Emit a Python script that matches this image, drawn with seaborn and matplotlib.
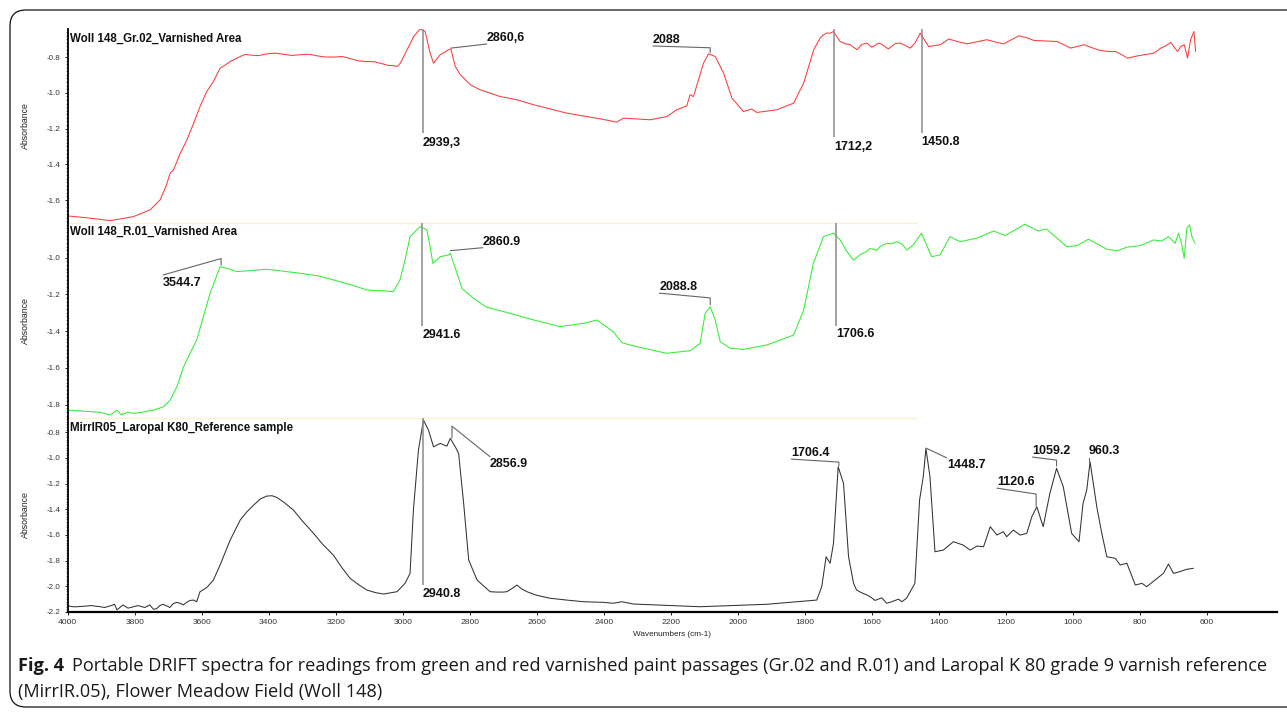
import matplotlib
matplotlib.use("Agg")
import matplotlib.pyplot as plt
import seaborn as sns
import pandas as pd
from matplotlib.patches import FancyBboxPatch
from matplotlib.ticker import MultipleLocator, FormatStrFormatter, FixedLocator

# ---------------- data ----------------
red_wn = [4000, 3940, 3873, 3840, 3804, 3754, 3724, 3707, 3694, 3684, 3664, 3644, 3624, 3605, 3585,
          3565, 3545, 3530, 3515, 3485, 3470, 3450, 3430, 3405, 3380, 3350, 3330, 3306, 3280, 3250,
          3230, 3206, 3180, 3150, 3130, 3107, 3085, 3060, 3045, 3027, 3015,
          3007, 2987, 2967, 2948, 2933, 2918, 2908, 2888, 2863, 2856, 2843, 2828, 2798, 2769, 2709,
          2659, 2609, 2510, 2410, 2361, 2341, 2261, 2211, 2182, 2152, 2142, 2132, 2117, 2102, 2087,
          2067, 2042, 2017, 1983, 1958, 1943, 1883, 1833, 1803, 1773, 1754, 1744, 1734, 1724, 1714,
          1694, 1680, 1664, 1644, 1630, 1614, 1600, 1590, 1580, 1570, 1550, 1540, 1530, 1515, 1500,
          1485, 1470, 1455, 1430,
          1395, 1370, 1340, 1315, 1280, 1256, 1230, 1206, 1180, 1161, 1140, 1116, 1080, 1046, 1006,
          966, 926, 900, 872, 850, 837, 810, 787,
          757, 737, 720, 707, 697, 687, 677, 667, 657, 648, 638, 633]
red_ab = [-1.689, -1.700, -1.715, -1.705, -1.693, -1.655, -1.599, -1.525, -1.450, -1.431, -1.338, -1.263,
          -1.170, -1.077, -0.993, -0.937, -0.862, -0.845, -0.825, -0.797, -0.785, -0.790, -0.792, -0.782,
          -0.778, -0.786, -0.791, -0.787, -0.784, -0.795, -0.800, -0.800, -0.797, -0.812, -0.822, -0.825,
          -0.826, -0.838, -0.846, -0.849, -0.852,
          -0.834, -0.759, -0.685, -0.643, -0.657, -0.778,
          -0.834, -0.787, -0.759, -0.755, -0.853, -0.899, -0.955, -0.983, -1.021, -1.039, -1.067, -1.114,
          -1.146, -1.164, -1.142, -1.151, -1.133, -1.095, -1.073, -1.011, -1.021, -0.927, -0.834, -0.782,
          -0.797, -0.890, -1.030, -1.105, -1.091, -1.110, -1.095, -1.058, -0.946, -0.759, -0.694, -0.675,
          -0.666, -0.666, -0.657, -0.713, -0.725, -0.731, -0.759, -0.730, -0.722, -0.745, -0.735, -0.722,
          -0.728, -0.755, -0.740, -0.725, -0.722, -0.735, -0.750, -0.720, -0.666, -0.741,
          -0.731, -0.699, -0.715, -0.726, -0.712, -0.703, -0.716, -0.726, -0.700, -0.681, -0.690, -0.707,
          -0.710, -0.713, -0.750, -0.731, -0.759, -0.768, -0.769, -0.790, -0.806, -0.795, -0.787,
          -0.778, -0.750, -0.735, -0.718, -0.745, -0.769, -0.740, -0.731, -0.806, -0.703, -0.657, -0.769]

green_wn = [4000, 3950, 3903, 3873, 3853, 3840, 3820, 3804, 3770, 3744, 3714, 3694, 3674, 3654, 3635,
            3615, 3595, 3575, 3560, 3545, 3525, 3495, 3450, 3406, 3350, 3306, 3250, 3207, 3150, 3107,
            3060, 3028, 3008, 2993, 2978, 2948, 2928, 2918, 2910, 2888, 2863, 2858, 2843, 2823, 2789,
            2749, 2679, 2609, 2530, 2460, 2420, 2371, 2346, 2311, 2212, 2142, 2112, 2097, 2082, 2067,
            2052, 2022, 1983, 1913, 1833, 1803, 1774, 1744, 1714, 1694, 1674, 1654, 1645, 1635, 1625,
            1615, 1605, 1595, 1585, 1575, 1565, 1555, 1540, 1525, 1510, 1495, 1476, 1451, 1436, 1421,
            1396, 1366, 1336, 1286, 1236, 1202, 1142,
            1103, 1078, 1018, 988, 953, 898, 868, 838, 799, 759, 734, 714, 694, 684, 674, 667, 659,
            651, 644, 635]
green_ab = [-1.829, -1.835, -1.841, -1.856, -1.829, -1.855, -1.840, -1.847, -1.838, -1.829, -1.811, -1.774,
            -1.702, -1.593, -1.520, -1.448, -1.321, -1.194, -1.121, -1.049, -1.058, -1.076, -1.070, -1.063,
            -1.075, -1.085, -1.100, -1.121, -1.150, -1.176, -1.180, -1.185, -1.121, -1.013, -0.886, -0.831,
            -0.849, -0.940, -1.031, -0.995, -0.985, -0.976, -1.058, -1.167, -1.221, -1.270, -1.303, -1.339,
            -1.375, -1.357, -1.339, -1.403, -1.462, -1.480, -1.520, -1.506, -1.466, -1.303, -1.267, -1.339,
            -1.457, -1.493, -1.499, -1.475, -1.421, -1.285, -1.031, -0.886, -0.867, -0.904, -0.967, -1.013,
            -1.000, -0.985, -0.975, -0.967, -0.950, -0.955, -0.960, -0.940, -0.930, -0.922, -0.925, -0.913,
            -0.925, -0.958, -0.931, -0.867, -0.931, -0.995,
            -0.985, -0.886, -0.913, -0.894, -0.855, -0.880, -0.818, -0.855, -0.844, -0.940, -0.935, -0.900,
            -0.954, -0.963, -0.943, -0.935, -0.904, -0.909, -0.886, -0.922, -0.867, -0.931, -1.003, -0.840,
            -0.822, -0.886, -0.922]

black_wn = [4000, 3980, 3950, 3930, 3903, 3890, 3870, 3860, 3853, 3835, 3820, 3804, 3790, 3770, 3755,
            3744, 3735, 3725, 3715, 3704, 3695, 3685, 3675, 3664, 3655, 3645, 3635, 3624, 3615,
            3605, 3585, 3565, 3545, 3515, 3485, 3465, 3445, 3425, 3406, 3390, 3376, 3355, 3326, 3300,
            3266, 3240, 3207, 3180, 3157, 3130, 3107, 3080, 3057,
            3017, 2993, 2978, 2968, 2953, 2938, 2923, 2908, 2888, 2868, 2858, 2843, 2833, 2818, 2803,
            2778, 2739, 2720, 2700, 2689, 2675, 2659, 2645, 2629, 2600, 2560, 2500, 2460, 2400, 2371,
            2346, 2311, 2112, 1913, 1764, 1749, 1736,
            1724, 1714, 1700, 1684, 1669, 1654, 1645, 1630, 1614, 1605, 1590, 1570, 1555, 1540, 1520,
            1510, 1496, 1471, 1457, 1446, 1438,
            1426, 1411, 1386, 1356, 1327, 1306, 1286, 1266, 1246, 1226, 1207, 1197, 1177, 1157, 1137,
            1122, 1107, 1088, 1068, 1048, 1028, 1003, 981, 969, 958, 948, 928, 913, 898, 873, 858,
            838, 813, 793, 779, 729, 714, 699, 680, 660, 640]
black_ab = [-2.153, -2.160, -2.155, -2.150, -2.159, -2.165, -2.150, -2.140, -2.184, -2.145, -2.170, -2.159,
            -2.150, -2.165, -2.145, -2.179, -2.175, -2.150, -2.140, -2.153, -2.165, -2.135, -2.125, -2.132,
            -2.145, -2.125, -2.110, -2.107, -2.120,
            -2.042, -2.010, -1.951, -1.834, -1.640, -1.484, -1.420, -1.368, -1.320, -1.298, -1.295, -1.308,
            -1.345, -1.407, -1.490, -1.588, -1.670, -1.757, -1.860, -1.938, -1.990, -2.029, -2.050, -2.060,
            -2.042, -1.977, -1.899, -1.407, -0.940, -0.707,
            -0.784, -0.914, -0.888, -0.909, -0.849, -0.914, -0.966, -1.355, -1.795, -1.951, -2.042, -2.045,
            -2.045, -2.042, -2.020, -1.990, -2.020, -2.042, -2.070, -2.093, -2.110, -2.120, -2.125, -2.132,
            -2.120, -2.138, -2.159, -2.140, -2.107, -2.003, -1.770,
            -1.821, -1.666, -1.070, -1.199, -1.770, -1.977, -2.029, -2.050, -2.068, -2.080, -2.110, -2.090,
            -2.132, -2.120, -2.100, -2.120, -2.093, -1.977,
            -1.329, -1.147, -0.927, -1.147, -1.731, -1.718, -1.653, -1.679, -1.718, -1.687, -1.692, -1.536,
            -1.601, -1.575, -1.614, -1.562, -1.601, -1.588, -1.459, -1.381, -1.536, -1.277, -1.082, -1.225,
            -1.588, -1.653, -1.355, -1.251, -1.031, -1.381, -1.588, -1.770, -1.782, -1.834, -1.821, -1.990,
            -1.977, -2.003, -1.899, -1.827, -1.899, -1.886, -1.868, -1.860]

panel_titles = ["Woll 148_Gr.02_Varnished Area",
                "Woll 148_R.01_Varnished Area",
                "MirrIR05_Laropal K80_Reference sample"]
x_ticks = [4000, 3800, 3600, 3400, 3200, 3000, 2800, 2600, 2400, 2200, 2000, 1800, 1600, 1400, 1200,
           1000, 800, 600]
y_ticks = [[-0.8, -1.0, -1.2, -1.4, -1.6],
           [-1.0, -1.2, -1.4, -1.6, -1.8],
           [-0.8, -1.0, -1.2, -1.4, -1.6, -1.8, -2.0, -2.2]]

# peak labels: (panel, text, wavenumber)
peak_panel = [0, 0, 0, 0, 0, 1, 1, 1, 1, 1, 2, 2, 2, 2, 2, 2, 2]
peak_text = ["2939,3", "2860,6", "2088", "1712,2", "1450.8",
             "3544.7", "2941.6", "2860.9", "2088.8", "1706.6",
             "2940.8", "2856.9", "1706.4", "1448.7", "1120.6", "1059.2", "960.3"]
peak_wn = [2939.3, 2860.6, 2088, 1712.2, 1450.8,
           3544.7, 2941.6, 2860.9, 2088.8, 1706.6,
           2940.8, 2856.9, 1706.4, 1448.7, 1120.6, 1059.2, 960.3]

caption_bold = "Fig. 4"
caption_l1 = ("Portable DRIFT spectra for readings from green and red varnished paint passages "
              "(Gr.02 and R.01) and Laropal K 80 grade 9 varnish reference")
caption_l2 = "(MirrIR.05), Flower Meadow Field (Woll 148)"

# ---------------- layout / style ----------------
W_PX, H_PX = 1287, 713
ylims = [(-1.727, -0.643), (-1.872, -0.81), (-2.2, -0.69)]
tops_px = [29, 222.7, 418]
bots_px = [222.7, 418, 612]
colors = ["#ff3b3b", "#33ee33", "#333333"]

ann_layout = [
    dict(kind="drop", y_end=-1.224, y_lab=-1.25),
    dict(kind="lead", path=[(2856, -0.750), (2749, -0.727)], tx=2749, ty=-0.727, va="bottom"),
    dict(kind="lead", path=[(2253, -0.738), (2082, -0.748), (2082, -0.776)], tx=2253, ty=-0.738, va="bottom"),
    dict(kind="drop", y_end=-1.246, y_lab=-1.27),
    dict(kind="drop", y_end=-1.224, y_lab=-1.24),
    dict(kind="lead", path=[(3715, -1.094), (3542, -1.005), (3542, -1.040)], tx=3715, ty=-1.105, va="top"),
    dict(kind="drop", y_end=-1.372, y_lab=-1.39),
    dict(kind="lead", path=[(2858, -0.962), (2761, -0.946)], tx=2761, ty=-0.946, va="bottom"),
    dict(kind="lead", path=[(2234, -1.193), (2082, -1.219), (2082, -1.257)], tx=2234, ty=-1.193, va="bottom"),
    dict(kind="drop", y_end=-1.372, y_lab=-1.38),
    dict(kind="drop", y_end=-1.99, y_lab=-2.013),
    dict(kind="lead", path=[(2853, -0.847), (2853, -0.753), (2739, -0.992)], tx=2739, ty=-1.0, va="top"),
    dict(kind="lead", path=[(1840, -1.010), (1698, -1.033), (1698, -1.064)], tx=1840, ty=-1.010, va="bottom"),
    dict(kind="lead", path=[(1438, -0.924), (1376, -1.0)], tx=1375, ty=-1.01, va="top"),
    dict(kind="lead", path=[(1226, -1.236), (1109, -1.282), (1109, -1.376)], tx=1226, ty=-1.236, va="bottom"),
    dict(kind="lead", path=[(1120, -0.994), (1048, -1.018), (1048, -1.064)], tx=1120, ty=-0.994, va="bottom"),
    dict(kind="lead", path=[(952, -1.000), (952, -1.035)], tx=952, ty=-0.994, va="bottom"),
]

sns.set_theme(style="white")
plt.rcParams["font.family"] = ["Liberation Sans", "DejaVu Sans"]
plt.rcParams["axes.unicode_minus"] = False

fig = plt.figure(figsize=(W_PX / 100, H_PX / 100), dpi=100)
fig.patch.set_facecolor("white")

L = 67.7 / W_PX
R = 1277 / W_PX
series = [(red_wn, red_ab), (green_wn, green_ab), (black_wn, black_ab)]
axes = []
for i in range(3):
    t, b = tops_px[i], bots_px[i]
    ax = fig.add_axes([L, 1 - b / H_PX, R - L, (b - t) / H_PX])
    ax.set_facecolor("none")
    df = pd.DataFrame({"wn": series[i][0], "ab": series[i][1]})
    sns.lineplot(data=df, x="wn", y="ab", ax=ax, color=colors[i], lw=0.75, sort=True,
                 estimator=None)
    ax.set_xlim(4000, 390)
    ax.set_ylim(*ylims[i])
    for s in ["top", "right"]:
        ax.spines[s].set_visible(False)
    ax.spines["left"].set_color("black")
    ax.spines["left"].set_linewidth(1.3)
    if i < 2:
        ax.spines["bottom"].set_visible(False)
        ax.set_xticks([])
    else:
        ax.spines["bottom"].set_color("black")
        ax.spines["bottom"].set_linewidth(1.6)
        ax.xaxis.set_major_locator(FixedLocator(x_ticks))
        ax.xaxis.set_major_formatter(FormatStrFormatter("%d"))
        ax.tick_params(axis="x", which="major", direction="out", length=2.5, width=0.7,
                       color="#222222", labelsize=6.1, labelcolor="#333333", pad=2.5, bottom=True)
    ax.yaxis.set_major_locator(FixedLocator(y_ticks[i]))
    ax.yaxis.set_major_formatter(FormatStrFormatter("%.1f"))
    ax.yaxis.set_minor_locator(MultipleLocator(0.02))
    ax.tick_params(axis="y", which="major", direction="out", length=2.5, width=0.7,
                   color="#222222", labelsize=5.8, labelcolor="#333333", pad=2.5, left=True)
    ax.tick_params(axis="y", which="minor", direction="out", length=1.2, width=0.5,
                   color="#444444", left=True)
    ax.set_ylabel("Absorbance", fontsize=6.3, color="#222222")
    ax.yaxis.set_label_coords(-0.031, 0.5)
    if i == 2:
        ax.set_xlabel("Wavenumbers (cm-1)", fontsize=5.9, color="#222222")
        ax.xaxis.set_label_coords(0.5, -0.10)
    else:
        ax.set_xlabel("")
    ax.text(0.002, 1 - (9.5 / (b - t)), panel_titles[i], transform=ax.transAxes,
            fontsize=8.3, fontweight="bold", color="#111111", ha="left", va="center")
    if i > 0:
        ax.axhline(ylims[i][1], xmin=0, xmax=0.702, color="#fdf1d2", lw=1.0, clip_on=False)
    axes.append(ax)

# peak annotations
ANN_FS = 9.0
for p, txt, wn, lay in zip(peak_panel, peak_text, peak_wn, ann_layout):
    ax = axes[p]
    if lay["kind"] == "drop":
        ax.plot([wn, wn], [ylims[p][1], lay["y_end"]], color="#8a8a8a", lw=1.1,
                solid_capstyle="butt", clip_on=False)
        ax.text(wn, lay["y_lab"], txt, fontsize=ANN_FS, fontweight="bold", color="#111111",
                ha="left", va="top")
    else:
        xs = [q[0] for q in lay["path"]]
        ys = [q[1] for q in lay["path"]]
        ax.plot(xs, ys, color="#666666", lw=0.8, clip_on=False)
        ax.text(lay["tx"], lay["ty"], txt, fontsize=ANN_FS, fontweight="bold", color="#111111",
                ha="left", va=lay["va"])

# caption
cap_fs = 13.1
tb = fig.text(18 / W_PX, 1 - 666 / H_PX, caption_bold, fontsize=cap_fs, fontweight="bold",
              family=["Open Sans", "DejaVu Sans"], color="#1a1a1a", ha="left", va="center")
fig.canvas.draw()
bb = tb.get_window_extent()
fig.text((bb.x1 + 8) / W_PX, 1 - 666 / H_PX, caption_l1, fontsize=cap_fs,
         family=["Open Sans", "DejaVu Sans"], color="#1a1a1a", ha="left", va="center")
fig.text(18 / W_PX, 1 - 692 / H_PX, caption_l2, fontsize=cap_fs,
         family=["Open Sans", "DejaVu Sans"], color="#1a1a1a", ha="left", va="center")

# rounded frame
frame = FancyBboxPatch((0.10, 0.06), 13.5, 6.97, boxstyle="round,pad=0,rounding_size=0.16",
                       transform=fig.dpi_scale_trans, fill=False, ec="#111111", lw=0.9)
fig.add_artist(frame)

fig.savefig("out.png", dpi=100, facecolor="white")
